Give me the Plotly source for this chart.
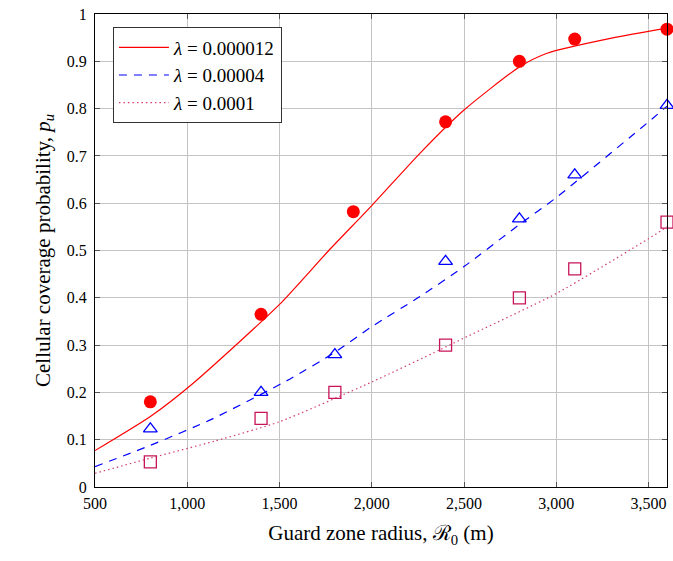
import plotly.graph_objects as go

# Simulation markers
x_red_pts = [800, 1400, 1900, 2400, 2800, 3100, 3600]
y_red_pts = [0.18, 0.365, 0.582, 0.772, 0.90, 0.947, 0.968]
x_blue_pts = [800, 1400, 1800, 2400, 2800, 3100, 3600]
y_blue_pts = [0.123, 0.20, 0.28, 0.477, 0.567, 0.66, 0.807]
x_pink_pts = [800, 1400, 1800, 2400, 2800, 3100, 3600]
y_pink_pts = [0.053, 0.145, 0.20, 0.30, 0.40, 0.461, 0.56]

# Analytical curves
x_red_line = [500, 800, 1040, 1500, 1767, 2000, 2262, 2500, 2800, 2950, 3300, 3600]
y_red_line = [0.077, 0.149, 0.222, 0.386, 0.50, 0.595, 0.706, 0.797, 0.888, 0.917, 0.949, 0.97]
x_blue_line = [500, 800, 1131, 1555, 1800, 2000, 2262, 2500, 2800, 3000, 3500, 3600]
y_blue_line = [0.043, 0.088, 0.143, 0.228, 0.285, 0.339, 0.403, 0.466, 0.555, 0.612, 0.772, 0.805]
x_pink_line = [500, 800, 1148, 1500, 2000, 2369, 2500, 3000, 3500, 3600]
y_pink_line = [0.029, 0.061, 0.097, 0.138, 0.222, 0.29, 0.315, 0.409, 0.525, 0.55]

legend_names = ["<i>\u03bb</i> = 0.000012", "<i>\u03bb</i> = 0.00004", "<i>\u03bb</i> = 0.0001"]
x_ticks = [500, 1000, 1500, 2000, 2500, 3000, 3500]
x_tick_text = ["500", "1,000", "1,500", "2,000", "2,500", "3,000", "3,500"]
y_ticks = [0, 0.1, 0.2, 0.3, 0.4, 0.5, 0.6, 0.7, 0.8, 0.9, 1]
y_tick_text = ["0", "0.1", "0.2", "0.3", "0.4", "0.5", "0.6", "0.7", "0.8", "0.9", "1"]

RED = "#ff0000"
BLUE = "#0000ff"
PINK = "#c8145a"
PINK_LINE = "#d23c73"
FONT = "Liberation Serif"

fig = go.Figure()
fig.add_trace(go.Scatter(x=x_red_line, y=y_red_line, mode="lines", name=legend_names[0],
                         line=dict(color=RED, width=1.2, shape="spline", smoothing=0.6)))
fig.add_trace(go.Scatter(x=x_blue_line, y=y_blue_line, mode="lines", name=legend_names[1],
                         line=dict(color=BLUE, width=1.2, dash="8px,7px", shape="spline", smoothing=0.6)))
fig.add_trace(go.Scatter(x=x_pink_line, y=y_pink_line, mode="lines", name=legend_names[2],
                         line=dict(color=PINK_LINE, width=1.2, dash="1.5px,3px", shape="spline", smoothing=0.6)))

fig.add_trace(go.Scatter(x=x_red_pts, y=y_red_pts, mode="markers", showlegend=False, cliponaxis=False,
                         marker=dict(symbol="circle", size=13, color=RED, line=dict(width=0))))
fig.add_trace(go.Scatter(x=x_blue_pts, y=y_blue_pts, mode="markers", showlegend=False, cliponaxis=False,
                         marker=dict(symbol="triangle-up-open", size=12, color=BLUE, line=dict(width=1.3))))
fig.add_trace(go.Scatter(x=x_pink_pts, y=y_pink_pts, mode="markers", showlegend=False, cliponaxis=False,
                         marker=dict(symbol="square-open", size=12, color=PINK, line=dict(width=1.3))))

axis_common = dict(showline=True, linecolor="black", linewidth=1.2, mirror="allticks",
                   ticks="inside", ticklen=5, tickcolor="#555555", tickwidth=1,
                   showgrid=True, gridcolor="#c4c4c4", gridwidth=1, zeroline=False,
                   tickfont=dict(family=FONT, size=16, color="black"))

fig.update_xaxes(range=[500, 3600], tickvals=x_ticks, ticktext=x_tick_text,
                 title=dict(text="Guard zone radius, \u211b<sub>0</sub> (m)",
                            font=dict(family=FONT, size=21, color="black"), standoff=14),
                 ticklabelstandoff=2, **axis_common)
fig.update_yaxes(range=[0, 1], tickvals=y_ticks, ticktext=y_tick_text,
                 title=dict(text="Cellular coverage probability, <i>p<sub>u</sub></i>",
                            font=dict(family=FONT, size=21, color="black"), standoff=10),
                 ticklabelstandoff=4, **axis_common)

fig.update_layout(
    width=673, height=561,
    margin=dict(l=95, r=6, t=14, b=74),
    plot_bgcolor="white", paper_bgcolor="white",
    font=dict(family=FONT, color="black"),
    legend=dict(x=0.031, y=0.972, xanchor="left", yanchor="top",
                bgcolor="white", bordercolor="#333333", borderwidth=1.2,
                font=dict(family=FONT, size=19, color="black"),
                itemwidth=50, tracegroupgap=2),
)

fig.write_html("out.html", config={"displayModeBar": False},
               post_script="document.body.style.margin='0';")
